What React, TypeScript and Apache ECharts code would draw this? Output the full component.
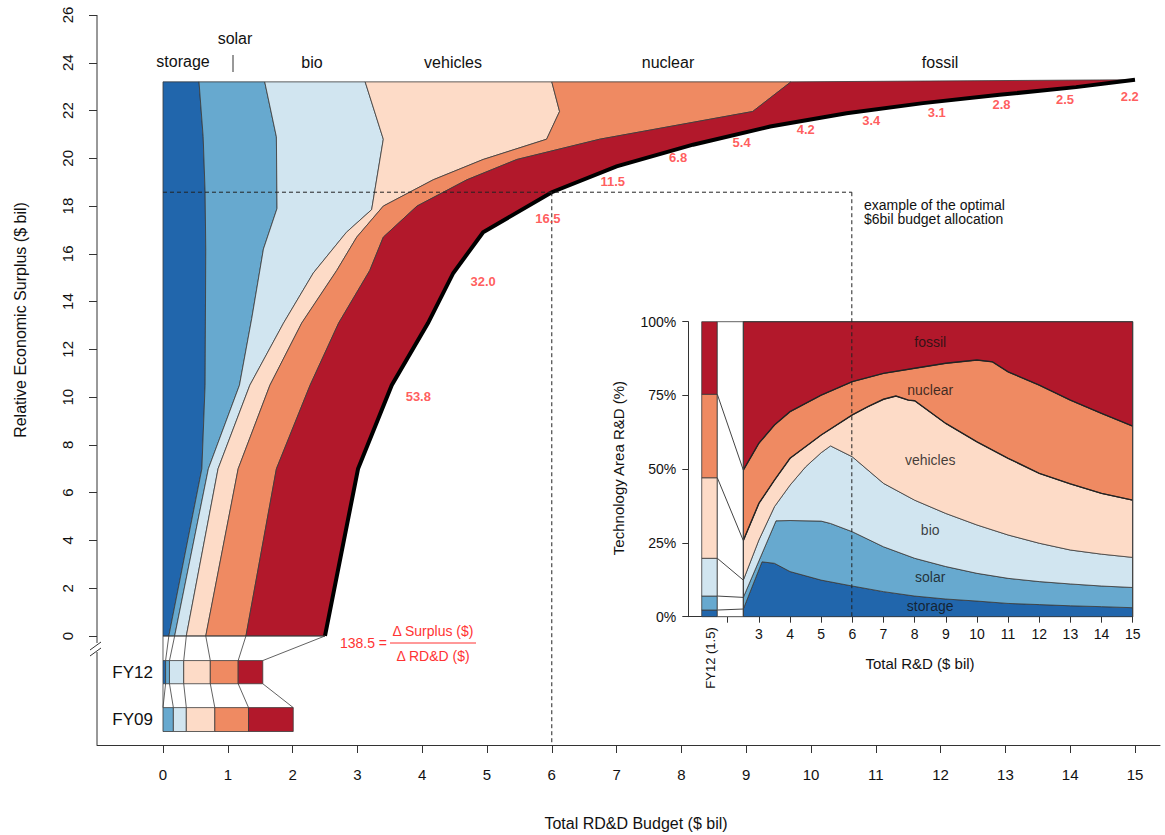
import { useEffect, useRef } from "react";
import * as echarts from "echarts";

// colours per technology (storage .. fossil)
const COLORS = ["#2166ac", "#67a9cf", "#d1e5f0", "#fddbc7", "#ef8a62", "#b2182b"];
const TECHS = ["storage", "solar", "bio", "vehicles", "nuclear", "fossil"];

// main chart: boundaries between bands, [budget x, surplus y], ascending y
const B_LEFT = [[0, 0], [0, 23.2]];
const B_STORAGE = [[0.09, 0], [0.6, 7.0], [0.65, 10.5], [0.66, 16.2], [0.65, 18.6], [0.62, 20.9], [0.556, 23.2]];
const B_SOLAR = [[0.18, 0], [0.7, 7.0], [1.18, 10.5], [1.37, 13.3], [1.55, 16.2], [1.76, 17.9], [1.75, 20.9], [1.57, 23.2]];
const B_BIO = [[0.36, 0], [0.85, 7.0], [1.34, 10.5], [1.86, 13.1], [2.32, 15.2], [2.83, 16.9], [3.22, 17.85], [3.4, 20.8], [3.12, 23.2]];
const B_VEHICLES = [[0.66, 0], [1.16, 7.0], [1.65, 10.5], [2.14, 13.1], [2.68, 15.3], [2.99, 16.7], [3.4, 18.0], [4.17, 19.1], [4.94, 19.95], [5.92, 20.8], [6.12, 21.96], [6.0, 23.2]];
const B_NUCLEAR = [[1.28, 0], [1.75, 7.0], [2.27, 10.5], [2.71, 13.1], [3.19, 15.3], [3.4, 16.7], [3.92, 18.0], [4.69, 19.1], [5.46, 19.95], [6.74, 20.8], [9.1, 21.96], [9.69, 23.2]];
const FRONTIER = [[2.5, 0], [3.01, 7.0], [3.53, 10.5], [4.09, 13.1], [4.48, 15.2], [4.94, 16.9], [6.0, 18.58], [7.0, 19.66], [8.18, 20.57], [9.37, 21.33], [10.55, 21.89], [11.73, 22.31], [12.91, 22.66], [14.09, 22.98], [15, 23.29]];
const MAIN_BOUNDS = [B_LEFT, B_STORAGE, B_SOLAR, B_BIO, B_VEHICLES, B_NUCLEAR, FRONTIER];

// marginal returns along the frontier
const RETURN_LABELS = ["53.8", "32.0", "16.5", "11.5", "6.8", "5.4", "4.2", "3.4", "3.1", "2.8", "2.5", "2.2"];
const RETURN_POS = [[3.94, 10.02], [4.94, 14.84], [5.94, 17.5], [6.94, 19.03], [7.95, 20.05], [8.93, 20.68], [9.92, 21.19], [10.93, 21.58], [11.94, 21.92], [12.94, 22.24], [13.92, 22.48], [14.92, 22.6]];

// historical budgets, cumulative edges
const FY12_EDGES = [0, 0.04, 0.1, 0.32, 0.73, 1.16, 1.54];
const FY09_EDGES = [0, 0, 0.16, 0.36, 0.8, 1.32, 2.01];
const ZERO_EDGES = MAIN_BOUNDS.map((b) => b[0][0]);

// optimal $6bil point
const OPT_X = 6;
const OPT_Y = 18.58;
const OPT_LINK_X = 10.63;

// inset: cumulative shares (%) vs total R&D
const I_BOTTOM = [[2.5, 0], [15, 0]];
const I_STORAGE = [[2.5, 2.6], [3.1, 18.6], [3.5, 18.1], [4, 15.3], [5, 12.4], [6, 10.4], [7, 8.5], [8, 7], [9, 6], [10, 5.3], [11, 4.5], [12, 4.1], [13, 3.7], [14, 3.4], [15, 3.05]];
const I_SOLAR = [[2.5, 6.55], [3.55, 32.5], [4, 32.6], [5, 32.4], [5.3, 31.6], [6, 28.8], [7, 23.7], [8, 19.8], [9, 17], [10, 14.7], [11, 13], [12, 11.9], [13, 11.1], [14, 10.4], [15, 9.9]];
const I_BIO = [[2.5, 12.4], [3, 26], [3.5, 37.3], [4, 44.6], [4.5, 50.8], [5, 55.6], [5.3, 57.9], [6, 54.2], [7, 45.2], [8, 39.5], [9, 35], [10, 31.1], [11, 27.7], [12, 24.9], [13, 22.6], [14, 21.2], [15, 20.1]];
const I_VEHICLES = [[2.5, 25.8], [3, 38.4], [3.5, 46.3], [4, 53.7], [5, 61.6], [6, 68.4], [6.5, 71.2], [7, 73.7], [7.4, 74.8], [7.8, 73.4], [8, 73.2], [9, 65.5], [10, 59.3], [11, 53.7], [12, 48.6], [13, 45], [14, 41.8], [15, 39.5]];
const I_NUCLEAR = [[2.5, 49.7], [3, 58.8], [3.5, 65], [4, 69.5], [5, 75.1], [6, 79.7], [7, 82.5], [8, 84.2], [9, 85.9], [10, 87], [10.5, 86.4], [11, 83], [12, 78.5], [13, 73.4], [14, 68.9], [15, 64.6]];
const I_TOP = [[2.5, 100], [15, 100]];
const INSET_BOUNDS = [I_BOTTOM, I_STORAGE, I_SOLAR, I_BIO, I_VEHICLES, I_NUCLEAR, I_TOP];
const INSET_FY12 = [0, 2.26, 7.0, 19.8, 47.1, 75.4, 100];
const INSET_LABEL_Y = [3.5, 13.5, 29.5, 53, 77, 93];

const X_TICKS = [0, 1, 2, 3, 4, 5, 6, 7, 8, 9, 10, 11, 12, 13, 14, 15];
const Y_TICKS = [0, 2, 4, 6, 8, 10, 12, 14, 16, 18, 20, 22, 24, 26];
const INSET_X_TICKS = [3, 4, 5, 6, 7, 8, 9, 10, 11, 12, 13, 14, 15];

const FONT = "Liberation Sans, Arial, sans-serif";
const RED = "#ff3333";

function custom(axis: number, draw: (api: any) => any) {
  return {
    type: "custom",
    xAxisIndex: axis,
    yAxisIndex: axis,
    data: [0],
    silent: true,
    clip: false,
    renderItem: (_p: any, api: any) => draw(api),
  };
}

function band(axis: number, lo: number[][], hi: number[][], fill: string) {
  return custom(axis, (api) => ({
    type: "polygon",
    shape: { points: [...lo, ...hi.slice().reverse()].map((p) => api.coord(p)) },
    style: { fill, stroke: "#3a3a3a", lineWidth: 0.8 },
  }));
}

function line(axis: number, pts: number[][], stroke: string, lineWidth: number, dash?: number[]) {
  return custom(axis, (api) => ({
    type: "polyline",
    shape: { points: pts.map((p) => api.coord(p)) },
    style: { fill: null, stroke, lineWidth, lineDash: dash },
  }));
}

function rect(axis: number, x0: number, x1: number, y0: number, y1: number, fill: string) {
  return band(axis, [[x0, y0], [x0, y1]], [[x1, y0], [x1, y1]], fill);
}

function buildOption(): echarts.EChartsOption {
  const series: any[] = [];
  // main bands
  for (let i = 0; i < 6; i++) series.push(band(0, MAIN_BOUNDS[i], MAIN_BOUNDS[i + 1], COLORS[i]));
  series.push(line(0, FRONTIER, "#000", 4));
  // bottom connectors and FY bars
  series.push(line(0, [[0, 0], [2.5, 0]], "#3a3a3a", 0.8));
  for (let i = 0; i < 7; i++) {
    series.push(line(0, [[ZERO_EDGES[i], 0], [FY12_EDGES[i], -1.03]], "#3a3a3a", 0.8));
    series.push(line(0, [[FY12_EDGES[i], -2], [FY09_EDGES[i], -3]], "#3a3a3a", 0.8));
  }
  for (let i = 0; i < 6; i++) {
    if (FY12_EDGES[i + 1] > FY12_EDGES[i]) series.push(rect(0, FY12_EDGES[i], FY12_EDGES[i + 1], -2, -1.03, COLORS[i]));
    if (FY09_EDGES[i + 1] > FY09_EDGES[i]) series.push(rect(0, FY09_EDGES[i], FY09_EDGES[i + 1], -4, -3, COLORS[i]));
  }
  // frontier return labels
  series.push({
    type: "scatter", xAxisIndex: 0, yAxisIndex: 0, symbolSize: 0, silent: true,
    data: RETURN_POS.map((p, i) => ({ value: p, label: { formatter: RETURN_LABELS[i] } })),
    label: { show: true, position: "inside", color: RED, fontSize: 13, fontWeight: "bold", fontFamily: FONT },
  });

  // inset
  for (let i = 0; i < 6; i++) series.push(band(1, INSET_BOUNDS[i], INSET_BOUNDS[i + 1], COLORS[i]));
  series.push(line(1, I_VEHICLES, "#222", 1.4));
  series.push(line(1, I_NUCLEAR, "#222", 1.4));
  for (let i = 0; i < 6; i++) series.push(rect(1, 1.165, 1.665, INSET_FY12[i], INSET_FY12[i + 1], COLORS[i]));
  series.push(rect(1, 1.665, 2.5, 0, 100, "#fff"));
  for (let i = 1; i < 6; i++) series.push(line(1, [[1.665, INSET_FY12[i]], [2.5, INSET_BOUNDS[i][0][1]]], "#444", 1));
  series.push(line(1, [[2.5, 0], [2.5, 100], [15, 100], [15, 0]], "#3a3a3a", 1));
  series.push({
    type: "scatter", xAxisIndex: 1, yAxisIndex: 1, symbolSize: 0, silent: true,
    data: TECHS.map((t, i) => ({ value: [8.5, INSET_LABEL_Y[i]], label: { formatter: t } })),
    label: { show: true, position: "inside", color: "#111", fontSize: 14, fontFamily: FONT },
  });

  // dashed guide lines
  series.push(line(0, [[0, OPT_Y], [OPT_LINK_X, OPT_Y]], "#222", 1, [4, 3]));
  series.push(line(0, [[OPT_X, OPT_Y], [OPT_X, -4.565]], "#222", 1, [4, 3]));
  series.push(line(0, [[OPT_LINK_X, OPT_Y], [OPT_LINK_X, 0.8]], "#222", 1, [4, 3]));

  const txt = (x: number, y: number, text: string, o: any = {}) => ({
    type: "text", x, y,
    style: { text, fill: o.fill ?? "#111", font: `${o.size ?? 16}px ${FONT}`, textAlign: o.align ?? "center", textVerticalAlign: "middle" },
    rotation: o.rot ?? 0,
  });
  const gl = (x1: number, y1: number, x2: number, y2: number, w = 1) => ({
    type: "line", shape: { x1, y1, x2, y2 }, style: { stroke: "#333", lineWidth: w },
  });

  return {
    animation: false,
    backgroundColor: "#fff",
    grid: [
      { left: 97, top: 15, width: 1063, height: 730 },
      { left: 688.3, top: 321.7, width: 444.4, height: 295 },
    ],
    xAxis: [
      {
        type: "value", gridIndex: 0, min: -1.0185, max: 15.386,
        axisLine: { onZero: false, lineStyle: { color: "#333" } }, splitLine: { show: false },
        axisTick: { customValues: X_TICKS, length: 8, lineStyle: { color: "#333" } },
        axisLabel: { customValues: X_TICKS, margin: 22, fontSize: 15, color: "#111", fontFamily: FONT },
      },
      {
        type: "value", gridIndex: 1, min: 0.734, max: 15,
        axisLine: { onZero: false, lineStyle: { color: "#333" } }, splitLine: { show: false },
        axisTick: { customValues: [2, ...INSET_X_TICKS], length: 6, lineStyle: { color: "#333" } },
        axisLabel: { customValues: INSET_X_TICKS, margin: 10, fontSize: 14, color: "#111", fontFamily: FONT },
      },
    ],
    yAxis: [
      {
        type: "value", gridIndex: 0, min: -4.565, max: 26,
        axisLine: { show: false, onZero: false }, splitLine: { show: false },
        axisTick: { show: true, customValues: Y_TICKS, length: 8, lineStyle: { color: "#333" } },
        axisLabel: { customValues: Y_TICKS, rotate: 90, margin: 22, fontSize: 15, color: "#111", fontFamily: FONT },
      },
      {
        type: "value", gridIndex: 1, min: 0, max: 100, interval: 25,
        axisLine: { show: true, onZero: false, lineStyle: { color: "#333" } }, splitLine: { show: false },
        axisTick: { show: true, length: 6, lineStyle: { color: "#333" } },
        axisLabel: { formatter: "{value}%", margin: 12, fontSize: 14, color: "#111", fontFamily: FONT },
      },
    ],
    graphic: [
      gl(97, 15, 97, 643), gl(97, 652, 97, 745),
      gl(90, 650, 101, 642), gl(90, 656, 101, 648),
      txt(20, 320, "Relative Economic Surplus ($ bil)", { rot: Math.PI / 2, size: 16 }),
      txt(636, 823, "Total RD&D Budget ($ bil)", { size: 16 }),
      txt(153, 672, "FY12", { align: "right", size: 17 }),
      txt(153, 719, "FY09", { align: "right", size: 17 }),
      txt(183, 61, "storage"), txt(235, 38, "solar"), gl(233, 55, 233, 72),
      txt(312, 62, "bio"), txt(453, 62, "vehicles"), txt(668, 62, "nuclear"), txt(940, 62, "fossil"),
      txt(864, 205, "example of the optimal", { align: "left", size: 14 }),
      txt(864, 219, "$6bil budget allocation", { align: "left", size: 14 }),
      txt(387, 643, "138.5 =", { fill: RED, size: 14, align: "right" }),
      txt(433, 631, "Δ Surplus ($)", { fill: RED, size: 14 }),
      { type: "line", shape: { x1: 390, y1: 643, x2: 476, y2: 643 }, style: { stroke: RED, lineWidth: 1 } },
      txt(433, 656, "Δ RD&D ($)", { fill: RED, size: 14 }),
      txt(710, 658, "FY12 (1.5)", { rot: Math.PI / 2, size: 13, align: "center" }),
      txt(920, 663, "Total R&D ($ bil)", { size: 15 }),
      txt(618, 468, "Technology Area R&D (%)", { rot: Math.PI / 2, size: 15 }),
    ],
    series,
  };
}

export default function App() {
  const el = useRef<HTMLDivElement>(null);
  useEffect(() => {
    if (!el.current) return;
    const chart = echarts.init(el.current, undefined, { renderer: "svg" });
    chart.setOption(buildOption());
    return () => chart.dispose();
  }, []);
  return <div ref={el} style={{ position: "fixed", left: 0, top: 0, width: 1165, height: 835 }} />;
}
